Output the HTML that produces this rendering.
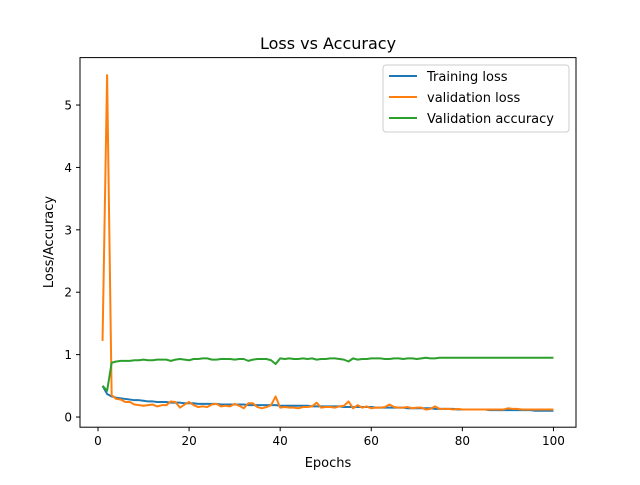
<!DOCTYPE html>
<html><head><meta charset="utf-8"><style>
body{margin:0;background:#fff}
svg text{font-family:"DejaVu Sans","Liberation Sans",sans-serif}
</style></head><body>
<svg id="chart" width="640" height="480" viewBox="0 0 640 480" xmlns="http://www.w3.org/2000/svg">
<rect width="640" height="480" fill="#fff"/>
<text x="328" y="49" font-size="16" text-anchor="middle">Loss vs Accuracy</text>
<text x="328" y="467" font-size="13" text-anchor="middle">Epochs</text>
<text transform="translate(53,242) rotate(-90)" font-size="13" text-anchor="middle">Loss/Accuracy</text>
<g id="ticks"></g>
<g id="series"></g>
<rect x="80" y="57.6" width="496" height="369.6" fill="none" stroke="#000" stroke-width="1"/>
<g>
<rect x="383" y="65" width="186" height="67" fill="#fff" fill-opacity="0.8" stroke="#ccc" rx="3"/>
<line x1="389" y1="76" x2="417" y2="76" stroke="#1f77b4" stroke-width="2"/>
<text x="427" y="81" font-size="13">Training loss</text>
<line x1="389" y1="97" x2="417" y2="97" stroke="#ff7f0e" stroke-width="2"/>
<text x="427" y="102" font-size="13">validation loss</text>
<line x1="389" y1="118" x2="417" y2="118" stroke="#2ca02c" stroke-width="2"/>
<text x="427" y="123" font-size="13">Validation accuracy</text>
</g>
</svg>
<script>
const xTicks=[0,20,40,60,80,100];
const yTicks=[0,1,2,3,4,5];
const trainLoss=[0.50,0.37,0.33,0.31,0.30,0.29,0.28,0.27,0.27,0.26,0.25,0.25,0.24,0.24,0.24,0.23,0.23,0.23,0.22,0.22,0.22,0.21,0.21,0.21,0.21,0.21,0.20,0.20,0.20,0.20,0.20,0.20,0.19,0.19,0.19,0.19,0.19,0.19,0.19,0.18,0.18,0.18,0.18,0.18,0.18,0.18,0.17,0.17,0.17,0.17,0.17,0.17,0.17,0.16,0.16,0.16,0.16,0.16,0.16,0.16,0.15,0.15,0.15,0.15,0.15,0.15,0.15,0.14,0.14,0.14,0.14,0.14,0.14,0.13,0.13,0.13,0.13,0.13,0.12,0.12,0.12,0.12,0.12,0.12,0.12,0.11,0.11,0.11,0.11,0.11,0.11,0.11,0.11,0.11,0.11,0.10,0.10,0.10,0.10,0.10];
const valLoss=[1.22,5.48,0.35,0.29,0.28,0.24,0.24,0.20,0.19,0.18,0.19,0.20,0.17,0.19,0.19,0.25,0.24,0.15,0.20,0.24,0.19,0.16,0.17,0.16,0.20,0.21,0.17,0.18,0.17,0.21,0.18,0.14,0.22,0.22,0.16,0.14,0.16,0.19,0.33,0.15,0.16,0.15,0.15,0.14,0.16,0.16,0.17,0.23,0.15,0.16,0.16,0.15,0.17,0.18,0.25,0.14,0.19,0.15,0.17,0.14,0.15,0.15,0.16,0.20,0.16,0.15,0.15,0.16,0.14,0.15,0.15,0.12,0.13,0.17,0.13,0.13,0.13,0.12,0.13,0.12,0.12,0.12,0.12,0.12,0.12,0.12,0.12,0.12,0.12,0.14,0.13,0.13,0.12,0.12,0.12,0.12,0.12,0.12,0.12,0.12];
const valAcc=[0.50,0.42,0.87,0.89,0.90,0.90,0.90,0.91,0.91,0.92,0.91,0.91,0.92,0.92,0.92,0.90,0.92,0.93,0.92,0.91,0.93,0.93,0.94,0.94,0.92,0.92,0.93,0.93,0.93,0.92,0.93,0.93,0.90,0.92,0.93,0.93,0.93,0.91,0.85,0.94,0.93,0.94,0.93,0.93,0.94,0.93,0.94,0.92,0.93,0.93,0.94,0.94,0.93,0.92,0.89,0.94,0.92,0.93,0.93,0.94,0.94,0.94,0.93,0.93,0.94,0.94,0.93,0.94,0.94,0.93,0.94,0.95,0.94,0.94,0.95,0.95,0.95,0.95,0.95,0.95,0.95,0.95,0.95,0.95,0.95,0.95,0.95,0.95,0.95,0.95,0.95,0.95,0.95,0.95,0.95,0.95,0.95,0.95,0.95,0.95];
const NS="http://www.w3.org/2000/svg";
const L=80,R=576,T=57.6,B=427.2;
const xMin=-3.95,xMax=104.95,yMin=-0.163,yMax=5.76;
const sx=v=>L+(v-xMin)/(xMax-xMin)*(R-L);
const sy=v=>B-(v-yMin)/(yMax-yMin)*(B-T);
const tg=document.getElementById('ticks');
xTicks.forEach(t=>{
  const l=document.createElementNS(NS,'line');
  l.setAttribute('x1',sx(t));l.setAttribute('x2',sx(t));l.setAttribute('y1',B);l.setAttribute('y2',B+4);l.setAttribute('stroke','#000');
  
  
  tg.appendChild(l);
  const tx=document.createElementNS(NS,'text');
  tx.setAttribute('x',sx(t));tx.setAttribute('y',B+18);tx.setAttribute('font-size','12');tx.setAttribute('text-anchor','middle');tx.textContent=t;
  
  
  tg.appendChild(tx);
});
yTicks.forEach(t=>{
  const l=document.createElementNS(NS,'line');
  l.setAttribute('x1',L-4);l.setAttribute('x2',L);l.setAttribute('y1',sy(t));l.setAttribute('y2',sy(t));l.setAttribute('stroke','#000');
  
  
  tg.appendChild(l);
  const tx=document.createElementNS(NS,'text');
  tx.setAttribute('x',L-8);tx.setAttribute('y',sy(t)+4.5);tx.setAttribute('font-size','12');tx.setAttribute('text-anchor','end');tx.textContent=t;
  
  
  tg.appendChild(tx);
});
const sg=document.getElementById('series');
function draw(arr,color,name){
  const p=document.createElementNS(NS,'polyline');
  p.setAttribute('points',arr.map((v,i)=>sx(i+1).toFixed(2)+','+sy(v).toFixed(2)).join(' '));
  p.setAttribute('fill','none');p.setAttribute('stroke',color);p.setAttribute('stroke-width','2');p.setAttribute('stroke-linejoin','round');
  
  
  sg.appendChild(p);
}
draw(trainLoss,'#1f77b4','training-loss-line');
draw(valLoss,'#ff7f0e','validation-loss-line');
draw(valAcc,'#2ca02c','validation-accuracy-line');
</script>
</body></html>
